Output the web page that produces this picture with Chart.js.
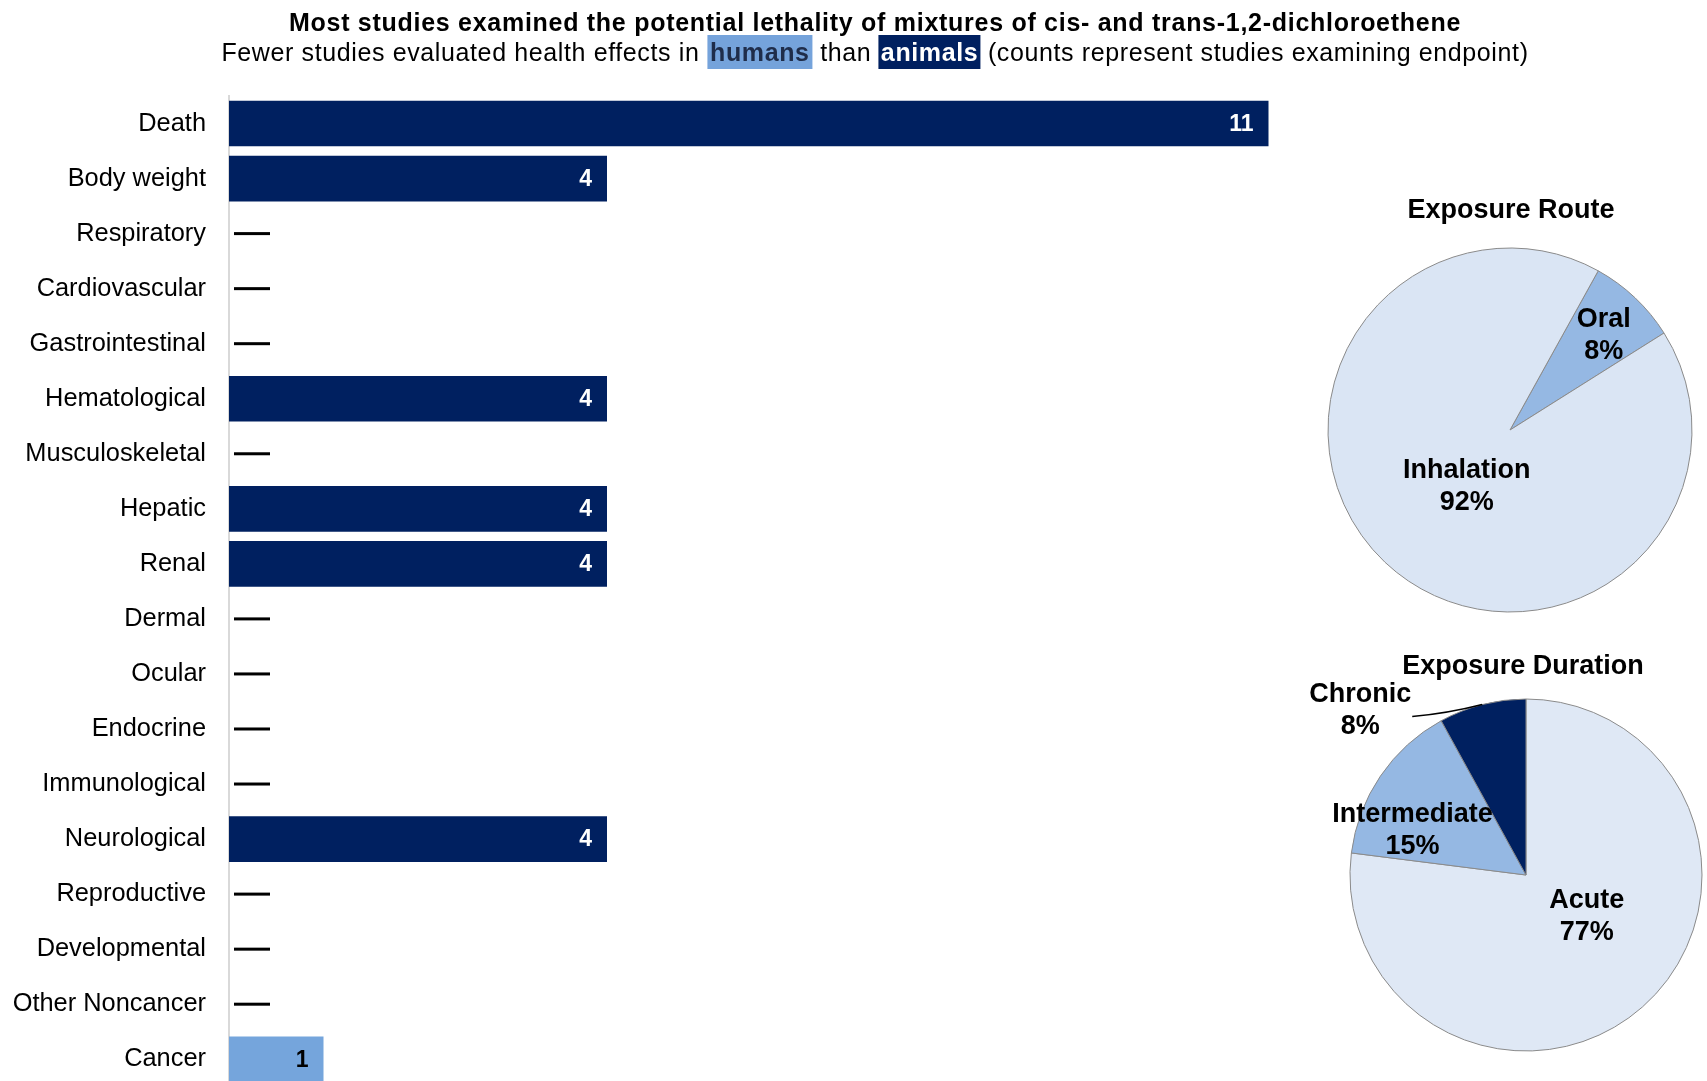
<!DOCTYPE html>
<html><head><meta charset="utf-8">
<script src="https://cdn.jsdelivr.net/npm/chart.js@4.4.0/dist/chart.umd.min.js"></script>
<style>
html,body{margin:0;padding:0;width:1707px;height:1081px;overflow:hidden;background:#fff;font-family:'Liberation Sans',Arial,sans-serif;color:#000;}
.abs{position:absolute;white-space:nowrap;}
#title{left:875px;top:10px;transform:translateX(-50%);font-weight:bold;font-size:25px;line-height:25px;letter-spacing:0.72px;}
#sub{left:875px;top:40px;transform:translateX(-50%);font-size:25px;line-height:25px;letter-spacing:0.62px;}
#sub .hum{background:#75A3DB;color:#1F2D4A;font-weight:bold;padding:3px 3px;}
#sub .ani{background:#002060;color:#fff;font-weight:bold;padding:3px 2px;}
.ptitle{transform:translateX(-50%);font-weight:bold;font-size:27px;line-height:27px;z-index:5;}
canvas{position:absolute;}
</style></head>
<body>
<canvas id="bar" width="1363" height="1125" style="left:0;top:0;width:1363px;height:1125px"></canvas>
<canvas id="route" width="440" height="440" style="left:1290px;top:210px;width:440px;height:440px"></canvas>
<canvas id="dur" width="480" height="440" style="left:1286px;top:655px;width:480px;height:440px"></canvas>
<div id="title" class="abs">Most studies examined the potential lethality of mixtures of cis- and trans-1,2-dichloroethene</div>
<div id="sub" class="abs">Fewer studies evaluated health effects in <span class="hum">humans</span> than <span class="ani">animals</span> (counts represent studies examining endpoint)</div>
<div class="abs ptitle" style="left:1511px;top:196px">Exposure Route</div>
<div class="abs ptitle" style="left:1523px;top:652px">Exposure Duration</div>
<script>
const categories = ['Death','Body weight','Respiratory','Cardiovascular','Gastrointestinal','Hematological','Musculoskeletal','Hepatic','Renal','Dermal','Ocular','Endocrine','Immunological','Neurological','Reproductive','Developmental','Other Noncancer','Cancer'];
const animalCounts = [11,4,0,0,0,4,0,4,4,0,0,0,0,4,0,0,0,0];
const humanCounts  = [0,0,0,0,0,0,0,0,0,0,0,0,0,0,0,0,0,1];
const routeLabels = ['Oral','Inhalation'];
const routePercents = [8,92];
const durationLabels = ['Acute','Intermediate','Chronic'];
const durationPercents = [77,15,8];

const FONT = "'Liberation Sans', Arial, sans-serif";
const NAVY = '#002060';
const HUMAN_BLUE = '#75A5DC';

const barLabels = {
  id:'barLabels',
  afterDatasetsDraw(chart){
    const ctx = chart.ctx, xs = chart.scales.x, ys = chart.scales.y;
    ctx.save();
    ctx.font = 'bold 23px ' + FONT;
    ctx.textAlign = 'right';
    ctx.textBaseline = 'middle';
    chart.data.datasets.forEach((ds, di) => {
      const meta = chart.getDatasetMeta(di);
      meta.data.forEach((el, i) => {
        const v = ds.data[i];
        if (!v) return;
        ctx.fillStyle = ds.labelColor;
        ctx.fillText(String(v), el.x - 15, el.y + 1);
      });
    });
    ctx.fillStyle = '#000';
    categories.forEach((c, i) => {
      if (animalCounts[i] + humanCounts[i] === 0) {
        const y = ys.getPixelForValue(i);
        const x0 = xs.getPixelForValue(0);
        ctx.fillRect(x0 + 5, y - 1.5, 36, 3);
      }
    });
    ctx.restore();
  }
};

new Chart(document.getElementById('bar'), {
  type: 'bar',
  data: {
    labels: categories,
    datasets: [
      {label:'animals', data: animalCounts, backgroundColor: NAVY, labelColor:'#fff', barPercentage:0.83, categoryPercentage:1, borderWidth:0},
      {label:'humans', data: humanCounts, backgroundColor: HUMAN_BLUE, labelColor:'#000', barPercentage:0.83, categoryPercentage:1, borderWidth:0}
    ]
  },
  options: {
    indexAxis:'y', responsive:false, animation:false, devicePixelRatio:1,
    layout:{padding:{top:96,left:0,right:0,bottom:38}},
    plugins:{legend:{display:false}, tooltip:{enabled:false}, title:{display:false}},
    scales:{
      x:{display:false, stacked:true, min:0, max:12},
      y:{stacked:true,
         grid:{display:false, drawTicks:false},
         border:{display:true, color:'#d9d9d9', width:2},
         ticks:{color:'#000', padding:23, autoSkip:false, font:{size:25.4, family:FONT}},
         afterFit(s){ s.width = 229; }
      }
    }
  },
  plugins:[barLabels]
});

const pieLabels = {
  id:'pieLabels',
  afterDatasetsDraw(chart, args, opts){
    const ctx = chart.ctx;
    const meta = chart.getDatasetMeta(0);
    ctx.save();
    ctx.font = 'bold 27px ' + FONT;
    ctx.textAlign = 'center';
    ctx.textBaseline = 'middle';
    ctx.fillStyle = '#000';
    ctx.strokeStyle = '#000';
    meta.data.forEach((arc, i) => {
      const p = opts.place[i];
      const {x, y, startAngle, endAngle, outerRadius} = arc.getProps(['x','y','startAngle','endAngle','outerRadius'], true);
      const mid = (startAngle + endAngle) / 2;
      const lx = x + Math.cos(mid) * outerRadius * p.frac + p.dx;
      const ly = y + Math.sin(mid) * outerRadius * p.frac + p.dy;
      ctx.fillText(chart.data.labels[i], lx, ly - 16);
      ctx.fillText(chart.data.datasets[0].data[i] + '%', lx, ly + 16);
      if (p.leader) {
        const ax = x + Math.cos(mid) * outerRadius, ay = y + Math.sin(mid) * outerRadius;
        const ex = lx + p.leader[0], ey = ly + p.leader[1];
        ctx.lineWidth = 1.5;
        ctx.beginPath();
        ctx.moveTo(ax, ay);
        ctx.quadraticCurveTo((ax + ex) / 2, (ay + ey) / 2 + 3, ex, ey);
        ctx.stroke();
      }
    });
    ctx.restore();
  }
};

new Chart(document.getElementById('route'), {
  type:'pie',
  data:{labels: routeLabels, datasets:[{data: routePercents, backgroundColor:['#95B8E3','#DAE5F4'], borderColor:'#8a8a8a', borderWidth:1}]},
  options:{responsive:false, animation:false, devicePixelRatio:1, rotation:29, radius:182,
    plugins:{legend:{display:false}, tooltip:{enabled:false},
      pieLabels:{place:[{frac:0.75,dx:0,dy:5},{frac:0.37,dx:3,dy:8}]}}},
  plugins:[pieLabels]
});

new Chart(document.getElementById('dur'), {
  type:'pie',
  data:{labels: durationLabels, datasets:[{data: durationPercents, backgroundColor:['#DFE8F5','#95B8E3', NAVY], borderColor:'#8a8a8a', borderWidth:1}]},
  options:{responsive:false, animation:false, devicePixelRatio:1, rotation:0, radius:176,
    plugins:{legend:{display:false}, tooltip:{enabled:false},
      pieLabels:{place:[{frac:0.35,dx:20,dy:-5},{frac:0.69,dx:-13,dy:24},{frac:1.0,dx:-122,dy:6,leader:[52,6]}]}}},
  plugins:[pieLabels]
});
</script>
</body></html>
